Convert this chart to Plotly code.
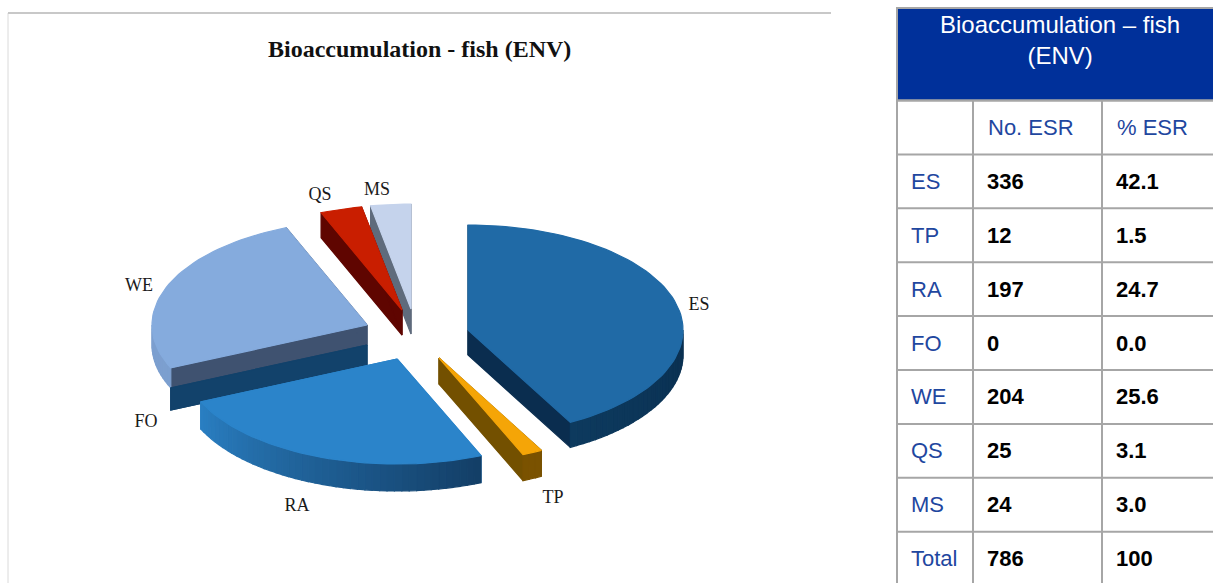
import math
import plotly.graph_objects as go

# ---------- data ----------
categories = ["ES", "TP", "RA", "FO", "WE", "QS", "MS"]
no_esr = [336, 12, 197, 0, 204, 25, 24]
pct_esr = ["42.1", "1.5", "24.7", "0.0", "25.6", "3.1", "3.0"]
total_label = "Total"
total_no = "786"
total_pct = "100"
column_heads = ["", "No. ESR", "% ESR"]
chart_title = "Bioaccumulation - fish (ENV)"
table_title = "Bioaccumulation – fish<br>(ENV)"

# ---------- styling / layout ----------
W, H = 1213, 583
RX, RY = 215, 105
STEP = 2.0
# apex of each exploded slice, wall depth, colours
STYLE = {
    "ES": dict(apex=(468, 330), depth=25, top="#206AA6", radial="#0A2D4F", wall=("#0A2F50", "#0D3A5E")),
    "TP": dict(apex=(439, 358), depth=26, top="#F5A507", radial="#735000", wall=("#7A5200", "#7A5200")),
    "RA": dict(apex=(397, 359), depth=27, top="#2B84CA", radial="#2B84CA", wall=("#133E66", "#2A7FC2")),
    "FO": dict(apex=(367, 345), depth=22, top="#12426B", radial="#12426B", wall=("#12426B", "#12426B")),
    "WE": dict(apex=(367, 325), depth=20, top="#85ABDD", radial="#3F5270", wall=("#7C9FCF", "#7C9FCF")),
    "QS": dict(apex=(402, 310), depth=25, top="#C91E00", radial="#5F0500", wall=("#5F0500", "#5F0500")),
    "MS": dict(apex=(411, 309), depth=25, top="#C5D3EC", radial="#5F6B7C", wall=("#5F6B7C", "#5F6B7C")),
}
DRAW_ORDER = ["MS", "QS", "WE", "FO", "RA", "TP", "ES"]
LABEL_POS = {"ES": (699, 305), "TP": (553, 498), "RA": (297, 506), "FO": (146, 422),
             "WE": (139, 286), "QS": (320, 195), "MS": (377, 190)}
SERIF = "Liberation Serif"
SANS = "Liberation Sans"
BLUE_TEXT = "#1F479F"
GRID = "#A6A6A6"
HEADER_BLUE = "#00309A"

COL_X = [897, 973, 1102]
TEXT_PAD = 15
TABLE_TOP, HEADER_BOTTOM, ROW_H = 8, 100.5, 53.9


def pt(apex, deg, dy=0):
    a = math.radians(deg)
    return apex[0] + RX * math.sin(a), apex[1] - RY * math.cos(a) + dy


def mix(c1, c2, t):
    a = [int(c1[i:i + 2], 16) for i in (1, 3, 5)]
    b = [int(c2[i:i + 2], 16) for i in (1, 3, 5)]
    return "#%02x%02x%02x" % tuple(round(a[i] + (b[i] - a[i]) * t) for i in range(3))


fig = go.Figure()


def poly(points, color):
    fig.add_trace(go.Scatter(
        x=[p[0] for p in points] + [points[0][0]],
        y=[p[1] for p in points] + [points[0][1]],
        mode="lines", fill="toself", fillcolor=color,
        line=dict(color=color, width=1.2), hoverinfo="skip", showlegend=False))


# slice angles come from the values
total = sum(no_esr)
angles = {}
cum = 0
for c, v in zip(categories, no_esr):
    angles[c] = (cum / total * 360, (cum + v) / total * 360)
    cum += v

for c in DRAW_ORDER:
    s = STYLE[c]
    a0, a1 = angles[c]
    apex, d = s["apex"], s["depth"]
    # radial walls
    for ang in (a0, a1):
        poly([apex, pt(apex, ang), pt(apex, ang, d), (apex[0], apex[1] + d)], s["radial"])
    # outer curved wall, only the part that faces the viewer
    lo, hi = max(a0, 90), min(a1, 270)
    if hi > lo:
        n = max(1, math.ceil((hi - lo) / STEP))
        for i in range(n):
            u0, u1 = lo + (hi - lo) * i / n, lo + (hi - lo) * (i + 1) / n
            t = ((u0 + u1) / 2 - lo) / (hi - lo)
            poly([pt(apex, u0), pt(apex, u1), pt(apex, u1, d), pt(apex, u0, d)],
                 mix(s["wall"][0], s["wall"][1], t))
    # top face
    if a1 > a0:
        n = max(2, math.ceil((a1 - a0) / STEP))
        poly([apex] + [pt(apex, a0 + (a1 - a0) * i / n) for i in range(n + 1)], s["top"])

# pie labels
fig.add_trace(go.Scatter(
    x=[LABEL_POS[c][0] for c in categories], y=[LABEL_POS[c][1] for c in categories],
    text=categories, mode="text", textposition="middle center",
    textfont=dict(family=SERIF, size=18, color="#1a1a1a"),
    hoverinfo="skip", showlegend=False))

# chart title
fig.add_annotation(x=419.5, y=49, text="<b>%s</b>" % chart_title, showarrow=False,
                   xref="x", yref="y", font=dict(family=SERIF, size=24, color="#111111"))

# table text
rows = categories + [total_label]
nos = [str(v) for v in no_esr] + [total_no]
pcts = pct_esr + [total_pct]
row_mid = [HEADER_BOTTOM + ROW_H * (i + 1.5) + 2 for i in range(len(rows))]
fig.add_trace(go.Scatter(
    x=[COL_X[1] + TEXT_PAD, COL_X[2] + TEXT_PAD],
    y=[HEADER_BOTTOM + ROW_H / 2 + 2] * 2, text=column_heads[1:], mode="text",
    textposition="middle right", textfont=dict(family=SANS, size=22, color=BLUE_TEXT),
    hoverinfo="skip", showlegend=False))
fig.add_trace(go.Scatter(
    x=[COL_X[0] + TEXT_PAD - 1] * len(rows), y=row_mid, text=rows, mode="text",
    textposition="middle right", textfont=dict(family=SANS, size=22, color=BLUE_TEXT),
    hoverinfo="skip", showlegend=False))
for col, vals in ((1, nos), (2, pcts)):
    fig.add_trace(go.Scatter(
        x=[COL_X[col] + TEXT_PAD - 1] * len(vals), y=row_mid, text=vals, mode="text",
        textposition="middle right",
        textfont=dict(family=SANS, size=22, color="#000000", weight="bold"),
        hoverinfo="skip", showlegend=False))

fig.add_annotation(x=1060, y=40, text=table_title, showarrow=False, xref="x", yref="y",
                   font=dict(family=SANS, size=24, color="#FFFFFF"), align="center")

# table grid + frame
shapes = [
    dict(type="rect", x0=COL_X[0], x1=W + 5, y0=TABLE_TOP, y1=HEADER_BOTTOM,
         fillcolor=HEADER_BLUE, line=dict(color=GRID, width=2), layer="below"),
    dict(type="line", x0=COL_X[0], x1=COL_X[0], y0=HEADER_BOTTOM, y1=H + 5, line=dict(color=GRID, width=2)),
    dict(type="line", x0=COL_X[1], x1=COL_X[1], y0=HEADER_BOTTOM, y1=H + 5, line=dict(color=GRID, width=2)),
    dict(type="line", x0=COL_X[2], x1=COL_X[2], y0=HEADER_BOTTOM, y1=H + 5, line=dict(color=GRID, width=2)),
    dict(type="line", x0=8, x1=8, y0=13, y1=H, line=dict(color="#DADADA", width=1)),
    dict(type="line", x0=8, x1=831, y0=13, y1=13, line=dict(color="#C8C8C8", width=2)),
]
for i in range(len(rows) + 1):
    y = HEADER_BOTTOM + ROW_H * i
    shapes.append(dict(type="line", x0=COL_X[0], x1=W + 5, y0=y, y1=y, line=dict(color=GRID, width=2)))

fig.update_layout(
    width=W, height=H, autosize=False, showlegend=False,
    margin=dict(l=0, r=0, t=0, b=0), paper_bgcolor="white", plot_bgcolor="white",
    xaxis=dict(range=[0, W], visible=False, fixedrange=True),
    yaxis=dict(range=[H, 0], visible=False, fixedrange=True),
    shapes=shapes,
)
fig.write_html("out.html", config={"displayModeBar": False},
               post_script="document.body.style.margin='0';document.body.style.overflow='hidden';")
